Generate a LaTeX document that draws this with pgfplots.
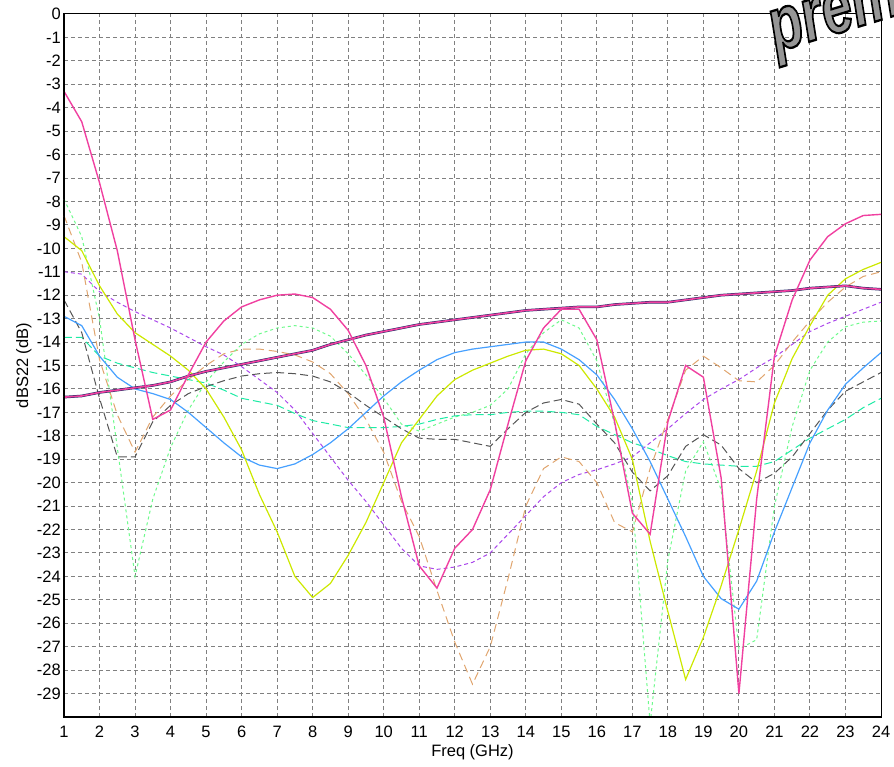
\documentclass[border=0pt]{standalone}
\usepackage{pgfplots}
\pgfplotsset{compat=1.18}
\usepackage{fontspec}
\setmainfont{Liberation Sans}
\newfontfamily\wmfont[FakeBold=3]{Liberation Sans Bold Italic}
\definecolor{pinkc}{RGB}{240,64,160}
\definecolor{yelc}{RGB}{204,232,0}
\definecolor{bluec}{RGB}{70,160,255}
\definecolor{grayc}{RGB}{85,85,85}
\definecolor{tealc}{RGB}{30,235,165}
\definecolor{lgreenc}{RGB}{110,250,140}
\definecolor{orangec}{RGB}{224,165,110}
\definecolor{purplec}{RGB}{170,70,235}
\definecolor{navyc}{RGB}{30,40,100}
\definecolor{gridc}{RGB}{128,128,128}
\definecolor{wmgray}{RGB}{150,150,150}
\begin{document}
\fontsize{16.5bp}{19bp}\selectfont
\begin{tikzpicture}
\begin{axis}[
  at={(0,0)}, anchor=south west,
  scale only axis, width=817bp, height=703bp,
  xmin=1, xmax=24, ymin=-30, ymax=0,
  xtick={1,...,24}, ytick={-29,...,0},
  minor tick num=0,
  major tick length=0pt,
  grid=major,
  grid style={gridc, line width=1bp, dash pattern=on 4bp off 3bp},
  axis line style={black, line width=1bp},
  tick style={draw=none},
  /pgf/number format/assume math mode=true,
  ticklabel style={font=\fontsize{16.5bp}{19bp}\selectfont},
  yticklabel style={inner sep=0pt, xshift=-3bp},
  xticklabel style={inner sep=0pt, yshift=-9bp},
  xlabel={Freq (GHz)}, ylabel={dBS22 (dB)},
  every axis x label/.style={at={(axis description cs:0.5,0)}, anchor=center, yshift=-35bp},
  every axis y label/.style={at={(axis description cs:-0.049,0.5)}, anchor=center, rotate=90},
  label style={font=\fontsize{16.5bp}{19bp}\selectfont},
  clip=true,
]
% purple short dashed
\addplot[purplec, line width=1bp, dash pattern=on 4bp off 3bp] coordinates {
(1,-11.0) (1.5,-11.1) (2,-11.85) (2.5,-12.3) (3,-12.7) (3.5,-13.05) (4,-13.4) (4.5,-13.8) (5,-14.2) (5.5,-14.55) (6,-15.05) (6.5,-15.6) (7,-16.15) (7.5,-16.9) (8,-17.9) (8.5,-18.9) (9,-19.9) (9.5,-20.8) (10,-21.8) (10.5,-22.8) (11,-23.55) (11.5,-23.7) (12,-23.6) (12.5,-23.4) (13,-23.0) (13.5,-22.2) (14,-21.4) (14.5,-20.6) (15,-20.0) (15.5,-19.65) (16,-19.45) (16.5,-19.2) (17,-18.9) (17.5,-18.3) (18,-17.7) (18.5,-17.05) (19,-16.45) (19.5,-16.0) (20,-15.6) (20.5,-15.1) (21,-14.65) (21.5,-14.1) (22,-13.55) (22.5,-13.2) (23,-12.9) (23.5,-12.6) (24,-12.3)};
% orange dashed
\addplot[orangec, line width=1bp, dash pattern=on 8bp off 5bp] coordinates {
(1,-8.6) (1.5,-10.6) (2,-14.75) (2.5,-17.1) (3,-18.7) (3.5,-17.2) (4,-16.3) (4.5,-15.6) (5,-15.0) (5.5,-14.5) (6,-14.3) (6.5,-14.3) (7,-14.4) (7.5,-14.55) (8,-14.85) (8.5,-15.35) (9,-16.2) (9.5,-17.3) (10,-18.7) (10.5,-20.8) (11,-22.3) (11.5,-24.6) (12,-26.8) (12.5,-28.6) (13,-27.0) (13.5,-24.1) (14,-21.0) (14.5,-19.4) (15,-18.9) (15.5,-19.1) (16,-20.0) (16.5,-21.7) (17,-22.1) (17.5,-19.4) (18,-17.3) (18.5,-15.2) (19,-14.6) (19.5,-15.1) (20,-15.65) (20.5,-15.7) (21,-15.0) (21.5,-14.0) (22,-13.1) (22.5,-12.3) (23,-11.65) (23.5,-11.2) (24,-11.0)};
% light green dotted
\addplot[lgreenc, line width=1bp, dash pattern=on 3bp off 3bp] coordinates {
(1,-7.9) (1.5,-9.5) (2,-13.0) (2.5,-18.5) (3,-24.0) (3.5,-20.7) (4,-18.5) (4.5,-16.9) (5,-15.7) (5.5,-14.85) (6,-14.1) (6.5,-13.65) (7,-13.4) (7.5,-13.3) (8,-13.4) (8.5,-13.75) (9,-14.5) (9.5,-15.4) (10,-16.4) (10.5,-17.5) (11,-17.8) (11.5,-17.5) (12,-17.2) (12.5,-17.0) (13,-16.7) (13.5,-16.0) (14,-14.5) (14.5,-13.6) (15,-13.05) (15.5,-13.4) (16,-14.8) (16.5,-17.5) (17,-20.8) (17.5,-30.3) (18,-23.3) (18.5,-19.5) (19,-18.25) (19.5,-20.3) (20,-27.1) (20.5,-26.7) (21,-21.0) (21.5,-17.6) (22,-15.2) (22.5,-14.0) (23,-13.35) (23.5,-13.15) (24,-13.1)};
% teal dashed
\addplot[tealc, line width=1bp, dash pattern=on 8bp off 4bp] coordinates {
(1,-13.8) (1.5,-13.8) (2,-14.6) (2.5,-14.9) (3,-15.1) (3.5,-15.3) (4,-15.45) (4.5,-15.6) (5,-15.75) (5.5,-16.05) (6,-16.4) (6.5,-16.55) (7,-16.7) (7.5,-17.05) (8,-17.35) (8.5,-17.5) (9,-17.65) (9.5,-17.65) (10,-17.65) (10.5,-17.6) (11,-17.5) (11.5,-17.3) (12,-17.15) (12.5,-17.1) (13,-17.1) (13.5,-17.0) (14,-16.95) (14.5,-16.95) (15,-17.0) (15.5,-17.1) (16,-17.6) (16.5,-17.95) (17,-18.3) (17.5,-18.55) (18,-18.85) (18.5,-19.1) (19,-19.2) (19.5,-19.25) (20,-19.3) (20.5,-19.3) (21,-19.1) (21.5,-18.6) (22,-18.1) (22.5,-17.7) (23,-17.3) (23.5,-16.8) (24,-16.4)};
% gray dashed
\addplot[grayc, line width=1bp, dash pattern=on 8bp off 4bp] coordinates {
(1,-12.2) (1.5,-13.6) (2,-16.4) (2.5,-18.9) (3,-18.9) (3.5,-17.4) (4,-16.7) (4.5,-16.2) (5,-15.9) (5.5,-15.65) (6,-15.45) (6.5,-15.35) (7,-15.3) (7.5,-15.35) (8,-15.45) (8.5,-15.7) (9,-16.15) (9.5,-16.7) (10,-17.2) (10.5,-17.7) (11,-18.1) (11.5,-18.15) (12,-18.15) (12.5,-18.3) (13,-18.45) (13.5,-17.7) (14,-17.0) (14.5,-16.6) (15,-16.45) (15.5,-16.65) (16,-17.5) (16.5,-18.3) (17,-19.55) (17.5,-20.35) (18,-19.7) (18.5,-18.45) (19,-17.95) (19.5,-18.4) (20,-19.4) (20.5,-20.0) (21,-19.6) (21.5,-18.9) (22,-17.9) (22.5,-16.9) (23,-16.1) (23.5,-15.7) (24,-15.3)};
% blue solid
\addplot[bluec, line width=1.2bp] coordinates {
(1,-12.9) (1.5,-13.3) (2,-14.6) (2.5,-15.5) (3,-16.0) (3.5,-16.2) (4,-16.45) (4.5,-17.0) (5,-17.65) (5.5,-18.3) (6,-18.9) (6.5,-19.25) (7,-19.4) (7.5,-19.2) (8,-18.8) (8.5,-18.3) (9,-17.7) (9.5,-17.0) (10,-16.3) (10.5,-15.7) (11,-15.2) (11.5,-14.75) (12,-14.45) (12.5,-14.3) (13,-14.2) (13.5,-14.1) (14,-14.0) (14.5,-14.0) (15,-14.3) (15.5,-14.75) (16,-15.4) (16.5,-16.45) (17,-17.7) (17.5,-19.1) (18,-20.7) (18.5,-22.3) (19,-24.0) (19.5,-24.95) (20,-25.4) (20.5,-24.2) (21,-22.1) (21.5,-20.2) (22,-18.3) (22.5,-16.9) (23,-15.8) (23.5,-15.1) (24,-14.45)};
% yellow-green solid
\addplot[yelc, line width=1.2bp] coordinates {
(1,-9.5) (1.5,-10.1) (2,-11.6) (2.5,-12.8) (3,-13.6) (3.5,-14.1) (4,-14.6) (4.5,-15.2) (5,-16.0) (5.5,-17.2) (6,-18.6) (6.5,-20.5) (7,-22.1) (7.5,-24.0) (8,-24.9) (8.5,-24.3) (9,-23.1) (9.5,-21.7) (10,-20.0) (10.5,-18.3) (11,-17.3) (11.5,-16.3) (12,-15.6) (12.5,-15.2) (13,-14.9) (13.5,-14.6) (14,-14.35) (14.5,-14.3) (15,-14.5) (15.5,-15.0) (16,-16.0) (16.5,-17.2) (17,-19.0) (17.5,-22.5) (18,-25.5) (18.5,-28.4) (19,-26.6) (19.5,-24.4) (20,-22.0) (20.5,-19.5) (21,-16.6) (21.5,-14.7) (22,-13.3) (22.5,-12.0) (23,-11.3) (23.5,-10.9) (24,-10.6)};
% bundle: navy under, pink over
\addplot[navyc, line width=2.6bp] coordinates {
(1,-16.35) (1.5,-16.3) (2,-16.15) (2.5,-16.05) (3,-15.95) (3.5,-15.85) (4,-15.7) (4.5,-15.45) (5,-15.25) (5.5,-15.1) (6,-14.95) (6.5,-14.8) (7,-14.65) (7.5,-14.5) (8,-14.35) (8.5,-14.1) (9,-13.9) (9.5,-13.7) (10,-13.55) (10.5,-13.4) (11,-13.25) (11.5,-13.15) (12,-13.05) (12.5,-12.95) (13,-12.85) (13.5,-12.75) (14,-12.65) (14.5,-12.6) (15,-12.55) (15.5,-12.5) (16,-12.5) (16.5,-12.4) (17,-12.35) (17.5,-12.3) (18,-12.3) (18.5,-12.2) (19,-12.1) (19.5,-12.0) (20,-11.95) (20.5,-11.9) (21,-11.85) (21.5,-11.8) (22,-11.7) (22.5,-11.65) (23,-11.6) (23.5,-11.7) (24,-11.75)};
\addplot[pinkc, line width=1.6bp] coordinates {
(1,-16.35) (1.5,-16.3) (2,-16.15) (2.5,-16.05) (3,-15.95) (3.5,-15.85) (4,-15.7) (4.5,-15.45) (5,-15.25) (5.5,-15.1) (6,-14.95) (6.5,-14.8) (7,-14.65) (7.5,-14.5) (8,-14.35) (8.5,-14.1) (9,-13.9) (9.5,-13.7) (10,-13.55) (10.5,-13.4) (11,-13.25) (11.5,-13.15) (12,-13.05) (12.5,-12.95) (13,-12.85) (13.5,-12.75) (14,-12.65) (14.5,-12.6) (15,-12.55) (15.5,-12.5) (16,-12.5) (16.5,-12.4) (17,-12.35) (17.5,-12.3) (18,-12.3) (18.5,-12.2) (19,-12.1) (19.5,-12.0) (20,-11.95) (20.5,-11.9) (21,-11.85) (21.5,-11.8) (22,-11.7) (22.5,-11.65) (23,-11.6) (23.5,-11.7) (24,-11.75)};
% pink solid main
\addplot[pinkc, line width=1.4bp] coordinates {
(1,-3.3) (1.5,-4.6) (2,-7.2) (2.5,-10.1) (3,-13.9) (3.5,-17.3) (4,-16.9) (4.5,-15.4) (5,-14.0) (5.5,-13.1) (6,-12.5) (6.5,-12.2) (7,-12.0) (7.5,-11.95) (8,-12.1) (8.5,-12.6) (9,-13.5) (9.5,-15.0) (10,-17.2) (10.5,-20.6) (11,-23.55) (11.5,-24.5) (12,-22.8) (12.5,-22.0) (13,-20.3) (13.5,-17.5) (14,-14.8) (14.5,-13.4) (15,-12.6) (15.5,-12.6) (16,-13.9) (16.5,-17.4) (17,-21.3) (17.5,-22.2) (18,-17.4) (18.5,-15.0) (19,-15.5) (19.5,-19.8) (20,-29.0) (20.5,-20.7) (21,-14.6) (21.5,-12.2) (22,-10.5) (22.5,-9.5) (23,-8.95) (23.5,-8.6) (24,-8.55)};
\draw[black, line width=2.5bp] (rel axis cs:0,1) -- (rel axis cs:0,0) -- (rel axis cs:1,0);
\end{axis}
% watermark
\node[anchor=base west, rotate=17, xscale=0.72, inner sep=0pt, text=wmgray] at (712bp,665bp) {\fontsize{76bp}{80bp}\wmfont\special{pdf:literal direct 0 0 0 RG}premium};
\pgfresetboundingbox
\path[use as bounding box] (-64bp,-50bp) rectangle (830bp,717bp);
\end{tikzpicture}
\end{document}
